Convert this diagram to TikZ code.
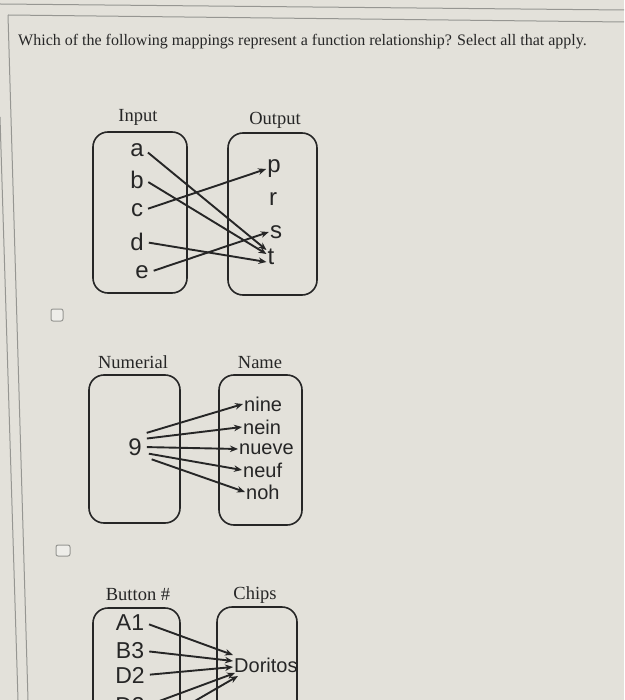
\documentclass[tikz,border=0pt]{standalone}
\usepackage{fontspec}
\setmainfont{Liberation Serif}
\newfontfamily\arialf{Liberation Sans}
\usetikzlibrary{arrows.meta,calc}
\definecolor{bg}{RGB}{227,225,218}
\definecolor{ink}{RGB}{38,38,38}
\definecolor{framec}{RGB}{150,150,146}
\begin{document}
\begin{tikzpicture}[x=1pt,y=-1pt,
  lbl/.style={font=\fontsize{18.5}{20}\selectfont, text=ink, inner sep=0pt},
  item/.style={font=\arialf\fontsize{20}{22}\selectfont, text=ink, inner sep=1pt},
  letter/.style={font=\arialf\fontsize{24}{26}\selectfont, text=ink, inner sep=1pt},
  bigitem/.style={font=\arialf\fontsize{23}{25}\selectfont, text=ink, inner sep=1pt},
  grp/.style={draw=ink, line width=1.6pt, rounded corners=15pt},
  arr/.style={draw=ink, line width=1.9pt, shorten <=4pt, -{Stealth[length=8pt,width=6.5pt]}},
  chk/.style={draw=framec, line width=1pt, rounded corners=2pt, fill=bg!60!white},
  rulel/.style={draw=framec, line width=1pt}]
\useasboundingbox (0,0) rectangle (624,700);
\clip (0,0) rectangle (624,700);
\fill[bg] (0,0) rectangle (624,700);
% frame lines of the screen
\draw[rulel] (0,4) -- (624,10);
\draw[rulel] (8,15) -- (624,22);
\draw[rulel] (8,15) -- (28,700);
\draw[rulel] (0,117) -- (18,700);
% question
\node[anchor=base west, font=\fontsize{16}{18}\selectfont, text=ink, inner sep=0pt] (q) at (18,46)
  {Which of the following mappings represent a function relationship? Select all that apply.};
% ---------- mapping 1 ----------
\node[lbl] (in1) at (138,117) {Input};
\node[lbl] (out1) at (275,120) {Output};
\draw[grp] (93,132) rectangle (187,293);
\draw[grp] (228,133) rectangle (317,295);
\node[letter] (a) at (137,150) {a};
\node[letter] (b) at (137,180) {b};
\node[letter] (c) at (137,210) {c};
\node[letter] (d) at (137,242) {d};
\node[letter] (e) at (142,272) {e};
\node[letter] (p) at (274,169) {p};
\node[letter] (r) at (273,199) {r};
\node[letter] (s) at (276,232) {s};
\node[letter] (t) at (271,257) {t};
\draw[arr] (a.east) -- ($(t.west)+(0,-7)$);
\draw[arr] (b.east) -- ($(t.west)+(0,-3)$);
\draw[arr] (c.east) -- (p.west);
\draw[arr] (d.east) -- ($(t.west)+(0,5)$);
\draw[arr] (e.east) -- (s.west);
\draw[chk] (51,309) rectangle (63,321);
% ---------- mapping 2 ----------
\node[lbl] (num) at (133,362) {Numerial};
\node[lbl] (nm) at (260,363) {Name};
\draw[grp] (89,375) rectangle (180,523);
\draw[grp] (219,375) rectangle (302,525);
\node[letter] (g9) at (135,447) {9};
\node[item, anchor=west] (w1) at (243,404) {nine};
\node[item, anchor=west] (w2) at (242,427) {nein};
\node[item, anchor=west] (w3) at (238,449) {nueve};
\node[item, anchor=west] (w4) at (242,470) {neuf};
\node[item, anchor=west] (w5) at (245,492) {noh};
\draw[arr] ($(g9.east)+(0,-13)$) -- (w1.west);
\draw[arr] ($(g9.east)+(0,-8)$) -- (w2.west);
\draw[arr] ($(g9.east)+(0,0)$) -- (w3.west);
\draw[arr] ($(g9.east)+(2,6)$) -- (w4.west);
\draw[arr] ($(g9.east)+(5,11)$) -- (w5.west);
\draw[chk] (56,545) rectangle (70,556);
% ---------- mapping 3 ----------
\node[lbl] (btn) at (138,595) {Button \#};
\node[lbl] (chips) at (255,595) {Chips};
\draw[grp] (93,608) rectangle (180,780);
\draw[grp] (217,607) rectangle (297,780);
\node[bigitem] (A1) at (130,623) {A1};
\node[bigitem] (B3) at (130,651) {B3};
\node[bigitem] (D2) at (130,675) {D2};
\node[bigitem] (D3) at (130,706) {D3};
\coordinate (hid) at (150,727);
\node[item, anchor=west] (dor) at (233,665) {Doritos};
\draw[arr] (A1.east) -- ($(dor.west)+(0,-10)$);
\draw[arr] (B3.east) -- ($(dor.west)+(0,-4)$);
\draw[arr] (D2.east) -- ($(dor.west)+(0,2)$);
\draw[arr] (D3.east) -- ($(dor.west)+(2,8)$);
\draw[arr] (hid) -- ($(dor.west)+(5,11)$);
\end{tikzpicture}
\end{document}
